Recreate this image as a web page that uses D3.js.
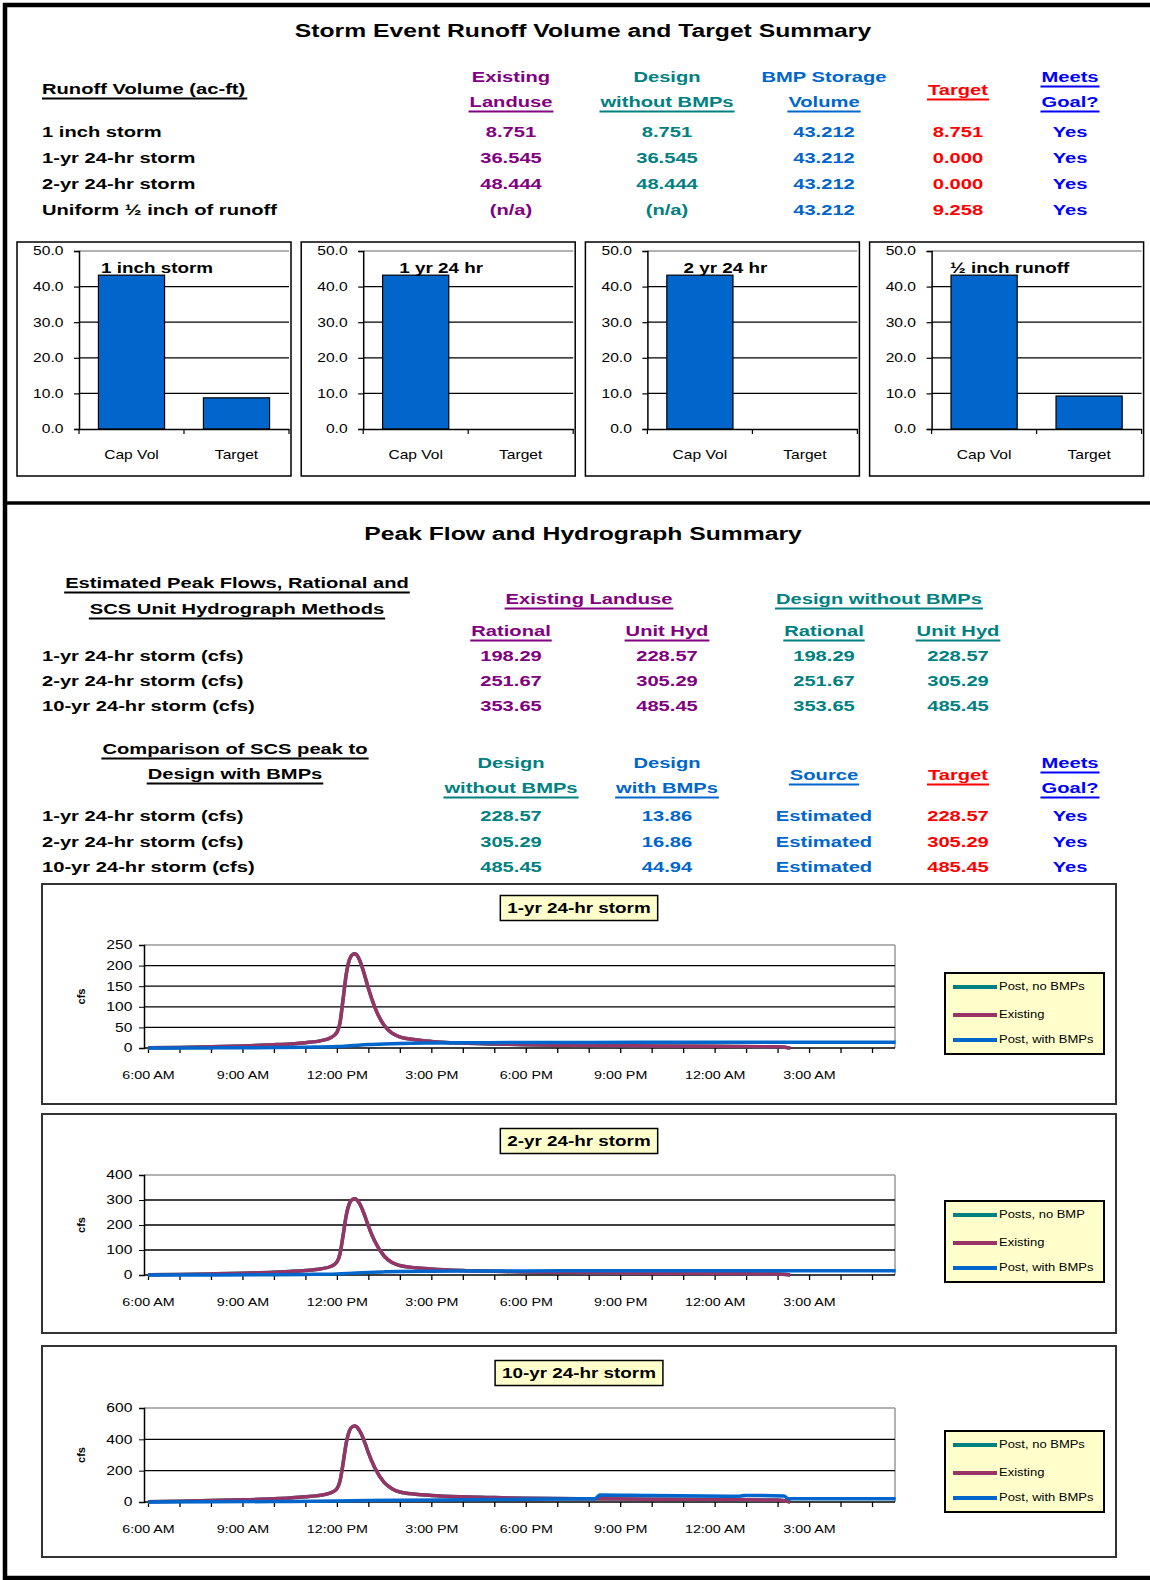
<!DOCTYPE html>
<html>
<head>
<meta charset="utf-8">
<script src="https://cdn.jsdelivr.net/npm/d3@7"></script>
<style>
  body { margin: 0; background: #fff; }
  svg { display: block; font-family: 'Liberation Sans', Arial, sans-serif; }
</style>
</head>
<body>
<script>
// runoff volume table (ac-ft)
const volumeStorms = ['1 inch storm', '1-yr 24-hr storm', '2-yr 24-hr storm', 'Uniform ½ inch of runoff']
const volExisting = [8.751, 36.545, 48.444, null]
const volDesign = [8.751, 36.545, 48.444, null]
const volBmpStorage = [43.212, 43.212, 43.212, 43.212]
const volTarget = [8.751, 0.000, 0.000, 9.258]
const volMeets = ['Yes', 'Yes', 'Yes', 'Yes']

// capture volume bar charts
const barTitles = ['1 inch storm', '1 yr 24 hr', '2 yr 24 hr', '½ inch runoff']
const barCategories = ['Cap Vol', 'Target']
const barTicks = [0, 10, 20, 30, 40, 50]

// peak flow tables (cfs)
const peakStorms = ['1-yr 24-hr storm (cfs)', '2-yr 24-hr storm (cfs)', '10-yr 24-hr storm (cfs)']
const peakExistRational = [198.29, 251.67, 353.65]
const peakExistUnitHyd = [228.57, 305.29, 485.45]
const peakDesignRational = [198.29, 251.67, 353.65]
const peakDesignUnitHyd = [228.57, 305.29, 485.45]
const peakWithBmps = [13.86, 16.86, 44.94]
const peakSource = ['Estimated', 'Estimated', 'Estimated']
const peakTarget = [228.57, 305.29, 485.45]
const peakMeets = ['Yes', 'Yes', 'Yes']

// hydrographs, x = hours after 6:00 AM
const hydroTitles = ['1-yr 24-hr storm', '2-yr 24-hr storm', '10-yr 24-hr storm']
const hydroYMax = [250, 400, 600]
const hydroYStep = [50, 100, 200]
const hydroLegends = [
  ['Post, no BMPs', 'Existing', 'Post, with BMPs'],
  ['Posts, no BMP', 'Existing', 'Post, with BMPs'],
  ['Post, no BMPs', 'Existing', 'Post, with BMPs']
]
const timeLabels = ['6:00 AM', '9:00 AM', '12:00 PM', '3:00 PM', '6:00 PM', '9:00 PM', '12:00 AM', '3:00 AM']

const existHours = [0, 1, 2, 3, 4, 4.5, 5, 5.5, 5.8, 6.0, 6.1, 6.2, 6.3, 6.4, 6.5, 6.57, 6.65, 6.75, 6.9, 7.0, 7.2, 7.5, 7.75, 8.0, 8.5, 9, 10, 11, 12, 14, 16, 18, 20, 20.4]
const existing1 = [0.5, 1.5, 3, 5, 8, 10, 13, 18, 25, 38, 62, 120, 180, 215, 227, 228.57, 224, 208, 172, 145, 100, 55, 36, 27, 20, 16, 12, 10, 8, 6, 5, 4, 3, 0]
const existing2 = [1, 2.5, 4.5, 7, 11, 14, 18, 25, 34, 52, 85, 160, 240, 287, 303, 305.29, 299, 279, 232, 196, 136, 76, 50, 38, 29, 24, 18, 15, 12, 9, 7, 6, 4, 0]
const existing10 = [2, 5, 9, 14, 21, 26, 33, 44, 58, 85, 135, 250, 380, 455, 482, 485.45, 476, 445, 372, 315, 220, 125, 85, 64, 50, 42, 33, 28, 24, 20, 18, 16, 12, 0]
// design without BMPs matches existing landuse (same unit hydrograph peaks)
const postNoBmp1 = existing1
const postNoBmp2 = existing2
const postNoBmp10 = existing10

const bmpHours = [0, 2, 4, 5, 6, 6.5, 7, 7.5, 8, 9, 10, 12, 14, 16, 18, 20, 22, 23.75]
const withBmp1 = [0, 0.3, 1, 2, 3.5, 6, 8.5, 10, 11, 12, 12.6, 13.2, 13.6, 13.8, 13.86, 13.86, 13.86, 13.86]
const withBmp2 = [0, 0.4, 1.2, 2.4, 4.5, 7.5, 10.5, 12.5, 13.8, 15, 15.8, 16.4, 16.7, 16.86, 16.86, 16.86, 16.86, 16.86]
const bmpHours10 = [0, 2, 4, 6, 7, 8, 10, 12, 14.2, 14.35, 16, 18.8, 18.95, 20.2, 20.35, 23.75]
const withBmp10 = [0, 1, 3, 6, 9, 11, 14, 17, 20, 44.94, 41, 37, 42, 38, 20, 20]

const hydroSeries = [
  [[existHours, postNoBmp1], [existHours, existing1], [bmpHours, withBmp1]],
  [[existHours, postNoBmp2], [existHours, existing2], [bmpHours, withBmp2]],
  [[existHours, postNoBmp10], [existHours, existing10], [bmpHours10, withBmp10]]
]

// colours
const purple = '#800080'
const teal = '#008080'
const bmpBlue = '#0066cc'
const red = '#ff0000'
const goalBlue = '#0000ff'
const lineColors = ['#008080', '#993366', '#0066cc']

const SX = 1.3 // the source is rendered horizontally stretched

const svg = d3.select('body').append('svg')
  .attr('width', 1150)
  .attr('height', 1580)

function label(sel, x, y, str, o = {}) {
  const size = o.size || 15.5
  const anchor = o.anchor || 'start'
  const fill = o.fill || '#000'
  const t = sel.append('text')
    .attr('transform', `translate(${x},${y}) scale(${SX},1)`)
    .attr('text-anchor', anchor)
    .attr('dominant-baseline', 'central')
    .attr('font-size', size)
    .attr('font-weight', o.normal ? 'normal' : 'bold')
    .attr('fill', fill)
    .text(str)
  if (o.underline) {
    const w = t.node().getComputedTextLength() * SX + 2
    const x0 = anchor === 'middle' ? x - w / 2 : anchor === 'end' ? x - w : x
    sel.append('line')
      .attr('x1', x0).attr('x2', x0 + w)
      .attr('y1', y + size * 0.62).attr('y2', y + size * 0.62)
      .attr('stroke', fill).attr('stroke-width', 2)
  }
  return t
}

const fmt3 = v => v == null ? '(n/a)' : v.toFixed(3)
const fmt2 = v => v.toFixed(2)

// page frame
const frame = svg.append('g').attr('stroke', '#000').attr('stroke-width', 4.5)
frame.append('line').attr('x1', 3).attr('x2', 1150).attr('y1', 5).attr('y2', 5)
frame.append('line').attr('x1', 5).attr('x2', 5).attr('y1', 3).attr('y2', 1580)
frame.append('line').attr('x1', 5).attr('x2', 1150).attr('y1', 503).attr('y2', 503).attr('stroke-width', 3.5)
frame.append('line').attr('x1', 5).attr('x2', 1150).attr('y1', 1578).attr('y2', 1578)

// ---------- runoff volume summary ----------
const volSec = svg.append('g')
const cols = [511, 667, 824, 958, 1070]
label(volSec, 583, 31, 'Storm Event Runoff Volume and Target Summary', { anchor: 'middle', size: 19 })
label(volSec, 42, 89, 'Runoff Volume (ac-ft)', { underline: true })
label(volSec, cols[0], 77, 'Existing', { anchor: 'middle', fill: purple })
label(volSec, cols[0], 102, 'Landuse', { anchor: 'middle', fill: purple, underline: true })
label(volSec, cols[1], 77, 'Design', { anchor: 'middle', fill: teal })
label(volSec, cols[1], 102, 'without BMPs', { anchor: 'middle', fill: teal, underline: true })
label(volSec, cols[2], 77, 'BMP Storage', { anchor: 'middle', fill: bmpBlue })
label(volSec, cols[2], 102, 'Volume', { anchor: 'middle', fill: bmpBlue, underline: true })
label(volSec, cols[3], 90, 'Target', { anchor: 'middle', fill: red, underline: true })
label(volSec, cols[4], 77, 'Meets', { anchor: 'middle', fill: goalBlue, underline: true })
label(volSec, cols[4], 102, 'Goal?', { anchor: 'middle', fill: goalBlue, underline: true })

const volRowY = [132, 158, 184, 210]
volumeStorms.forEach((s, i) => {
  const y = volRowY[i]
  label(volSec, 42, y, s)
  label(volSec, cols[0], y, fmt3(volExisting[i]), { anchor: 'middle', fill: purple })
  label(volSec, cols[1], y, fmt3(volDesign[i]), { anchor: 'middle', fill: teal })
  label(volSec, cols[2], y, fmt3(volBmpStorage[i]), { anchor: 'middle', fill: bmpBlue })
  label(volSec, cols[3], y, fmt3(volTarget[i]), { anchor: 'middle', fill: red })
  label(volSec, cols[4], y, volMeets[i], { anchor: 'middle', fill: goalBlue })
})

// ---------- small bar charts ----------
barTitles.forEach((title, i) => {
  const bx = 17 + i * 284.2
  const bw = 274
  const by = 242
  const bh = 234
  const g = svg.append('g')
  g.append('rect')
    .attr('x', bx).attr('y', by).attr('width', bw).attr('height', bh)
    .attr('fill', '#fff').attr('stroke', '#000').attr('stroke-width', 1.5)

  const left = bx + 62
  const right = bx + bw - 2
  const y = d3.scaleLinear().domain([0, 50]).range([429, 251])
  const x = d3.scaleBand().domain(barCategories).range([left, right])
    .paddingInner(0.37).paddingOuter(0.185)

  g.selectAll('.grid').data(barTicks.slice(1)).join('line')
    .attr('x1', left).attr('x2', right)
    .attr('y1', y).attr('y2', y)
    .attr('stroke', d => d === 50 ? '#999' : '#000')
    .attr('stroke-width', d => d === 50 ? 1.5 : 1.2)

  const yAxis = g.append('g')
    .attr('transform', `translate(${left},0)`)
    .call(d3.axisLeft(y).tickValues(barTicks).tickFormat(d3.format('.1f')).tickSize(5).tickPadding(7))
  yAxis.select('.domain').attr('stroke-width', 1.5)
  yAxis.selectAll('.tick line').attr('stroke-width', 1.2)
  yAxis.selectAll('text').attr('font-size', 12).attr('fill', '#000')
    .attr('transform', `scale(${SX},1)`)

  const values = [volBmpStorage[i], volTarget[i]]
  g.selectAll('.bar').data(barCategories).join('rect')
    .attr('x', d => x(d))
    .attr('width', x.bandwidth())
    .attr('y', (d, k) => y(values[k]))
    .attr('height', (d, k) => y(0) - y(values[k]))
    .attr('fill', '#0066cc')
    .attr('stroke', '#000')
    .attr('stroke-width', (d, k) => values[k] > 0 ? 1.2 : 0)

  const xAxis = g.append('g')
    .attr('transform', `translate(0,${y(0)})`)
    .call(d3.axisBottom(x).tickSize(0).tickPadding(21))
  xAxis.select('.domain').attr('stroke-width', 1.5)
  xAxis.selectAll('text').attr('font-size', 12).attr('fill', '#000')
    .attr('transform', `scale(${SX},1)`)
  // category boundary ticks
  const mid = (x('Cap Vol') + x.bandwidth() + x('Target')) / 2
  g.selectAll('.ctick').data([left, mid, right]).join('line')
    .attr('x1', d => d).attr('x2', d => d)
    .attr('y1', y(0)).attr('y2', y(0) + 5)
    .attr('stroke', '#000').attr('stroke-width', 1.2)

  label(g, bx + bw / 2 + 3, 268, title, { anchor: 'middle', size: 14.5 })
})

// ---------- peak flow summary ----------
const peakSec = svg.append('g')
label(peakSec, 583, 534, 'Peak Flow and Hydrograph Summary', { anchor: 'middle', size: 19 })
label(peakSec, 237, 583, 'Estimated Peak Flows, Rational and', { anchor: 'middle', underline: true })
label(peakSec, 237, 609, 'SCS Unit Hydrograph Methods', { anchor: 'middle', underline: true })
label(peakSec, 589, 599, 'Existing Landuse', { anchor: 'middle', fill: purple, underline: true })
label(peakSec, 879, 599, 'Design without BMPs', { anchor: 'middle', fill: teal, underline: true })
label(peakSec, cols[0], 631, 'Rational', { anchor: 'middle', fill: purple, underline: true })
label(peakSec, cols[1], 631, 'Unit Hyd', { anchor: 'middle', fill: purple, underline: true })
label(peakSec, cols[2], 631, 'Rational', { anchor: 'middle', fill: teal, underline: true })
label(peakSec, cols[3], 631, 'Unit Hyd', { anchor: 'middle', fill: teal, underline: true })

const peakRowY = [656, 681, 706]
peakStorms.forEach((s, i) => {
  const y = peakRowY[i]
  label(peakSec, 42, y, s)
  label(peakSec, cols[0], y, fmt2(peakExistRational[i]), { anchor: 'middle', fill: purple })
  label(peakSec, cols[1], y, fmt2(peakExistUnitHyd[i]), { anchor: 'middle', fill: purple })
  label(peakSec, cols[2], y, fmt2(peakDesignRational[i]), { anchor: 'middle', fill: teal })
  label(peakSec, cols[3], y, fmt2(peakDesignUnitHyd[i]), { anchor: 'middle', fill: teal })
})

label(peakSec, 235, 749, 'Comparison of SCS peak to', { anchor: 'middle', underline: true })
label(peakSec, 235, 774, 'Design with BMPs', { anchor: 'middle', underline: true })
label(peakSec, cols[0], 763, 'Design', { anchor: 'middle', fill: teal })
label(peakSec, cols[0], 788, 'without BMPs', { anchor: 'middle', fill: teal, underline: true })
label(peakSec, cols[1], 763, 'Design', { anchor: 'middle', fill: bmpBlue })
label(peakSec, cols[1], 788, 'with BMPs', { anchor: 'middle', fill: bmpBlue, underline: true })
label(peakSec, cols[2], 775, 'Source', { anchor: 'middle', fill: bmpBlue, underline: true })
label(peakSec, cols[3], 775, 'Target', { anchor: 'middle', fill: red, underline: true })
label(peakSec, cols[4], 763, 'Meets', { anchor: 'middle', fill: goalBlue, underline: true })
label(peakSec, cols[4], 788, 'Goal?', { anchor: 'middle', fill: goalBlue, underline: true })

const compRowY = [816, 842, 867]
peakStorms.forEach((s, i) => {
  const y = compRowY[i]
  label(peakSec, 42, y, s)
  label(peakSec, cols[0], y, fmt2(peakDesignUnitHyd[i]), { anchor: 'middle', fill: teal })
  label(peakSec, cols[1], y, fmt2(peakWithBmps[i]), { anchor: 'middle', fill: bmpBlue })
  label(peakSec, cols[2], y, peakSource[i], { anchor: 'middle', fill: bmpBlue })
  label(peakSec, cols[3], y, fmt2(peakTarget[i]), { anchor: 'middle', fill: red })
  label(peakSec, cols[4], y, peakMeets[i], { anchor: 'middle', fill: goalBlue })
})

// ---------- hydrographs ----------
const panelTops = [884, 1114, 1346]
const panelBottoms = [1104, 1333, 1557]
const plotTops = [945, 1175, 1408]
const plotBottoms = [1048, 1275, 1502]
const titleY = [908, 1141, 1373]
const legendTops = [973, 1201, 1431]
const plotLeft = 144
const plotRight = 895

hydroTitles.forEach((title, i) => {
  const g = svg.append('g')
  g.append('rect')
    .attr('x', 42).attr('y', panelTops[i])
    .attr('width', 1074).attr('height', panelBottoms[i] - panelTops[i])
    .attr('fill', '#fff').attr('stroke', '#333').attr('stroke-width', 2)

  const x = d3.scaleLinear().domain([0, 23.73]).range([plotLeft + 4, plotRight])
  const y = d3.scaleLinear().domain([0, hydroYMax[i]]).range([plotBottoms[i], plotTops[i]])
  const yTicks = d3.range(0, hydroYMax[i] + 1, hydroYStep[i])

  // plot border (grey) and gridlines
  g.append('line')
    .attr('x1', plotLeft).attr('x2', plotRight)
    .attr('y1', plotTops[i]).attr('y2', plotTops[i])
    .attr('stroke', '#999').attr('stroke-width', 1.5)
  g.append('line')
    .attr('x1', plotRight).attr('x2', plotRight)
    .attr('y1', plotTops[i]).attr('y2', plotBottoms[i])
    .attr('stroke', '#999').attr('stroke-width', 1.5)
  g.selectAll('.grid').data(yTicks.slice(1, -1)).join('line')
    .attr('x1', plotLeft).attr('x2', plotRight)
    .attr('y1', y).attr('y2', y)
    .attr('stroke', '#000').attr('stroke-width', 1.3)

  const yAxis = g.append('g')
    .attr('transform', `translate(${plotLeft},0)`)
    .call(d3.axisLeft(y).tickValues(yTicks).tickSize(5).tickPadding(4))
  yAxis.select('.domain').attr('stroke-width', 1.5)
  yAxis.selectAll('text').attr('font-size', 12).attr('fill', '#000')
    .attr('transform', `scale(${SX},1)`)

  const xAxis = g.append('g')
    .attr('transform', `translate(0,${plotBottoms[i]})`)
    .call(d3.axisBottom(x).tickValues(d3.range(0, 24))
      .tickFormat(h => h % 3 === 0 ? timeLabels[h / 3] : '')
      .tickSize(5).tickSizeOuter(0).tickPadding(18))
  xAxis.select('.domain').attr('stroke-width', 1.5)
    .attr('d', `M${plotLeft},0H${plotRight}`)
  xAxis.selectAll('.tick line').attr('stroke-width', 1.3)
  xAxis.selectAll('text').attr('font-size', 11).attr('fill', '#000')
    .attr('transform', `scale(${SX},1)`)

  g.append('text')
    .attr('transform', `translate(81,${(plotTops[i] + plotBottoms[i]) / 2}) rotate(-90)`)
    .attr('text-anchor', 'middle')
    .attr('dominant-baseline', 'central')
    .attr('font-size', 11)
    .attr('font-weight', 'bold')
    .text('cfs')

  const line = d3.line()
    .x(d => x(d[0]))
    .y(d => y(d[1]))
    .curve(d3.curveMonotoneX)
  hydroSeries[i].forEach(([hours, vals], k) => {
    g.append('path')
      .datum(d3.zip(hours, vals))
      .attr('d', line)
      .attr('fill', 'none')
      .attr('stroke', lineColors[k])
      .attr('stroke-width', 3.5)
      .attr('stroke-linejoin', 'round')
  })

  // title box
  const tb = g.append('g')
  const tt = label(tb, 579, titleY[i], title, { anchor: 'middle', size: 14.5 })
  const tw = tt.node().getComputedTextLength() * SX
  tb.insert('rect', 'text')
    .attr('x', 579 - tw / 2 - 7).attr('y', titleY[i] - 12.5)
    .attr('width', tw + 14).attr('height', 25)
    .attr('fill', '#ffffcc').attr('stroke', '#000').attr('stroke-width', 1.5)

  // legend
  const lg = g.append('g').attr('transform', `translate(945,${legendTops[i]})`)
  lg.append('rect')
    .attr('width', 159).attr('height', 81)
    .attr('fill', '#ffffcc').attr('stroke', '#000').attr('stroke-width', 2)
  const rowY = [14, 42, 67]
  hydroLegends[i].forEach((name, k) => {
    lg.append('line')
      .attr('x1', 8).attr('x2', 52)
      .attr('y1', rowY[k]).attr('y2', rowY[k])
      .attr('stroke', lineColors[k]).attr('stroke-width', 4)
    label(lg, 54, rowY[k], name, { size: 10, normal: true })
  })
})
</script>
</body>
</html>
